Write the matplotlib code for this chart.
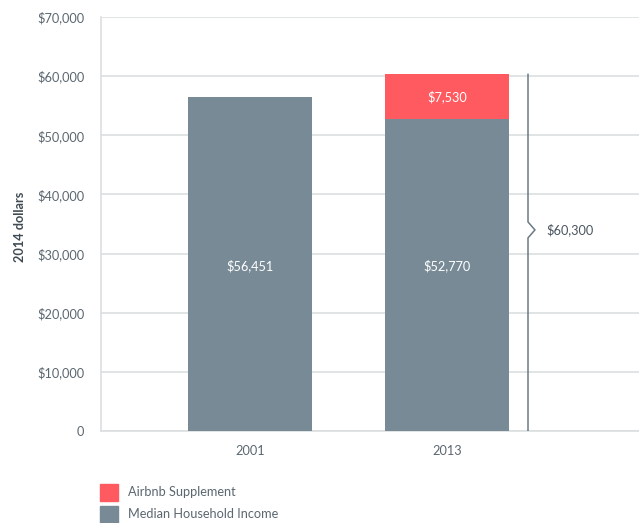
import matplotlib
matplotlib.use("Agg")
import matplotlib.pyplot as plt
from matplotlib.patches import Rectangle

years = ["2001", "2013"]
median_income = [56451, 52770]
airbnb_supplement = [0, 7530]
total_2013 = 60300
yticks = [0, 10000, 20000, 30000, 40000, 50000, 60000, 70000]
ytick_labels = ["0", "$10,000", "$20,000", "$30,000", "$40,000", "$50,000", "$60,000", "$70,000"]

GRAY = "#788a96"
RED = "#ff5a5f"
TEXT = "#5b6770"
GRID = "#dcdfe0"
FS = 9.2

plt.rcParams['font.family'] = ['Lato', 'DejaVu Sans']

fig = plt.figure(figsize=(6.39, 5.23), dpi=100)
ax = fig.add_axes([101/639, 1-431/523, 538/639, 414/523])

x = [0, 1]
w = 0.628
ax.bar(x, median_income, width=w, color=GRAY, zorder=3)
ax.bar(x[1], airbnb_supplement[1], bottom=median_income[1], width=w, color=RED, zorder=3)

label_y = median_income[0] / 2
for xi, v in zip(x, median_income):
    ax.text(xi, label_y - 200, f"${v:,}", ha="center", va="center", color="white", fontsize=FS, zorder=4)
ax.text(x[1], median_income[1] + airbnb_supplement[1]/2, f"${airbnb_supplement[1]:,}",
        ha="center", va="center", color="white", fontsize=FS, zorder=4)

# bracket line with notch
bx = 1.408
notch_y = 34000
nh = 1350
nw = 0.035
ax.plot([bx, bx, bx+nw, bx, bx], [total_2013, notch_y+nh, notch_y, notch_y-nh, 0],
        color="#6b7a84", lw=1.1, zorder=3, solid_joinstyle="miter")
ax.text(bx + 0.095, notch_y, f"${total_2013:,}", ha="left", va="center", color="#4a5560", fontsize=FS)

ax.set_xlim(-0.754, 1.97)
ax.set_ylim(0, 70000)
ax.set_yticks(yticks)
ax.set_yticklabels(ytick_labels)
ax.set_xticks(x)
ax.set_xticklabels(years)
ax.tick_params(axis="both", length=0, colors=TEXT, labelsize=FS)
ax.tick_params(axis="y", pad=12)
ax.tick_params(axis="x", pad=10)
ax.grid(axis="y", color=GRID, lw=1.2, zorder=0)
for s in ["top", "right"]:
    ax.spines[s].set_visible(False)
ax.spines["left"].set_color(GRID)
ax.spines["bottom"].set_color(GRID)
ax.spines["left"].set_linewidth(1.2)
ax.spines["bottom"].set_linewidth(1.2)

fig.text(20/639, 1-227/523, "2014 dollars", rotation=90, ha="center", va="center",
         color="#3f4a52", fontsize=9.2, fontweight="bold")

# legend
legend_items = [("Airbnb Supplement", RED), ("Median Household Income", GRAY)]
for i, (lab, col) in enumerate(legend_items):
    ytop = 484 + i*22
    fig.patches.append(Rectangle((100/639, 1-(ytop+17)/523), 18/639, 17/523,
                                 transform=fig.transFigure, color=col))
    fig.text(128/639, 1-(ytop+8.5)/523, lab, ha="left", va="center", color=TEXT, fontsize=FS)

fig.savefig("out.png", dpi=100)
